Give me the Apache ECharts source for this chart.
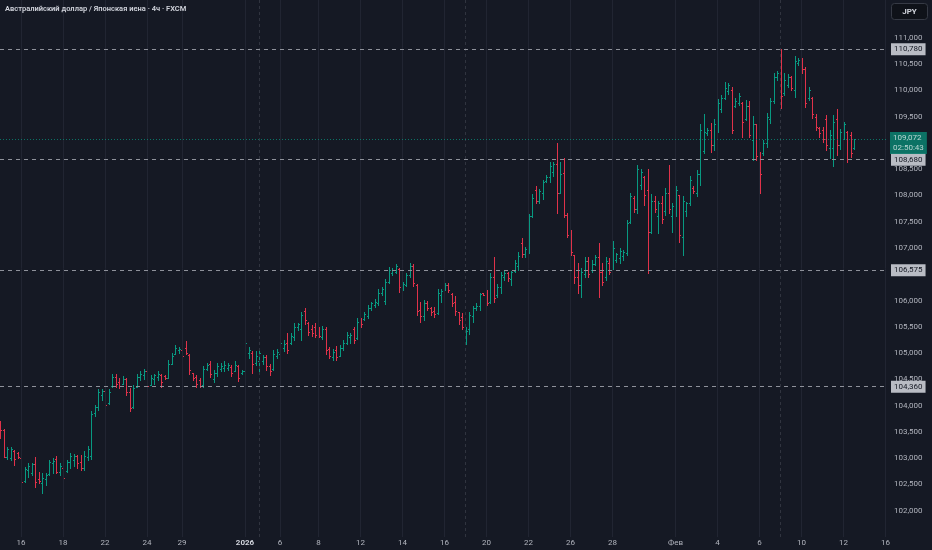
<!DOCTYPE html>
<html>
<head>
    <meta charset="UTF-8">
    <title>AUD/JPY 4ч</title>
    <style>
        html, body { margin: 0; padding: 0; background: #151924; }
        #container { width: 932px; height: 550px; }
    </style>
</head>
<body>
<div id="container"></div>

<script src="https://cdn.jsdelivr.net/npm/echarts@6.0.0/dist/echarts.min.js"></script>
<script type="text/javascript">
    // 4h bars, one entry per bar (index = position on the time scale)
    var opens = [
        103.66,103.53,103.02,103.00,103.14,103.10,103.00,102.56,102.78,102.72,
        102.88,102.60,102.52,102.60,102.70,102.90,102.98,102.74,102.82,102.76,
        102.92,102.96,103.04,102.92,102.82,103.02,103.05,103.85,103.98,104.20,
        104.28,104.05,104.38,104.55,104.45,104.42,104.50,104.25,103.98,104.36,
        104.55,104.58,104.66,104.40,104.50,104.55,104.58,104.56,104.53,104.80,
        104.99,105.05,105.06,105.10,104.96,104.62,104.55,104.48,104.40,104.70,
        104.80,104.50,104.62,104.70,104.72,104.72,104.74,104.66,104.76,104.62,
        104.66,105.00,105.00,104.82,104.85,104.85,104.92,104.75,104.70,104.95,
        104.98,105.10,105.20,105.20,105.30,105.50,105.45,105.80,105.58,105.45,
        105.50,105.45,105.30,105.45,105.08,104.92,105.05,104.95,105.10,105.20,
        105.30,105.45,105.28,105.62,105.65,105.70,105.85,105.92,105.95,106.15,
        106.00,106.35,106.52,106.55,106.60,106.22,106.30,106.48,106.65,106.30,
        105.82,105.70,105.95,105.85,105.80,105.76,106.10,106.22,106.30,106.12,
        105.98,105.78,105.68,105.30,105.45,105.70,105.85,105.90,106.14,106.12,
        105.98,106.45,106.10,106.25,106.45,106.52,106.40,106.56,106.65,107.10,
        106.88,106.98,107.60,108.10,107.90,108.05,108.28,108.35,108.45,108.60,
        108.05,108.42,107.62,107.25,106.86,106.45,106.30,106.50,106.75,106.58,
        106.70,106.82,106.55,106.45,106.72,106.60,106.78,106.80,106.85,106.90,
        107.50,107.95,107.75,108.20,108.35,108.10,107.30,107.90,107.60,107.85,
        107.70,108.05,107.60,107.65,108.00,107.20,107.70,107.85,108.15,108.05,
        108.40,108.85,109.18,109.25,108.95,109.35,109.65,109.85,109.98,110.00,
        109.70,109.75,109.75,109.45,109.70,109.05,109.35,108.75,108.80,109.00,
        109.45,109.80,110.25,110.35,109.95,110.10,110.25,110.00,110.52,110.60,
        110.40,109.85,109.85,109.50,109.28,109.25,109.45,108.90,108.90,109.45,
        108.95,109.15,109.20,109.15,108.90
    ];
    var highs = [
        103.70,103.55,103.22,103.21,103.16,103.12,103.03,102.84,102.90,102.90,
        103.03,102.74,102.71,102.71,102.97,103.00,103.04,102.90,102.84,102.97,
        103.09,103.08,103.06,103.06,103.14,103.23,103.89,104.01,104.31,104.31,
        104.31,104.31,104.60,104.60,104.52,104.56,104.52,104.33,104.39,104.61,
        104.65,104.69,104.69,104.58,104.61,104.65,104.61,104.58,104.86,105.01,
        105.15,105.11,105.09,105.22,104.98,104.63,104.58,104.52,104.75,104.82,
        104.84,104.68,104.82,104.82,104.84,104.82,104.77,104.84,104.77,104.68,
        105.28,105.11,105.03,105.03,105.07,104.96,104.96,104.79,105.06,105.07,
        105.25,105.25,105.38,105.38,105.57,105.58,105.79,105.85,105.60,105.53,
        105.57,105.50,105.51,105.50,105.12,105.07,105.13,105.15,105.25,105.41,
        105.38,105.50,105.66,105.66,105.79,105.91,105.98,106.02,106.21,106.26,
        106.40,106.63,106.61,106.69,106.61,106.36,106.52,106.71,106.69,106.31,
        105.98,106.01,106.00,105.88,105.88,106.21,106.21,106.33,106.33,106.15,
        106.08,105.79,105.76,105.50,105.79,105.89,105.95,106.15,106.15,106.20,
        106.53,106.82,106.31,106.55,106.57,106.55,106.57,106.78,106.93,107.18,
        107.02,107.65,108.03,108.18,108.13,108.29,108.39,108.64,108.64,108.99,
        108.64,108.72,107.67,107.34,106.87,106.71,106.61,106.83,106.83,106.77,
        106.87,107.09,106.71,106.83,106.80,107.14,106.91,106.99,106.96,107.53,
        108.04,107.98,108.58,108.51,108.36,108.50,108.03,107.98,107.90,107.98,
        108.15,108.58,107.86,108.18,108.01,107.99,107.88,108.37,108.18,108.48,
        109.36,109.55,109.29,109.38,109.45,109.83,109.91,110.16,110.13,110.06,
        109.85,109.95,109.78,109.82,109.80,109.51,109.36,108.83,109.05,109.57,
        109.85,110.32,110.37,110.78,110.32,110.31,110.27,110.65,110.61,110.61,
        110.44,110.06,109.87,109.55,109.30,109.31,109.53,109.25,109.53,109.64,
        109.26,109.40,109.23,109.21,109.07
    ];
    var lows = [
        103.38,103.02,102.98,102.97,102.87,103.00,102.52,102.55,102.65,102.68,
        102.45,102.52,102.33,102.49,102.68,102.71,102.71,102.68,102.55,102.74,
        102.81,102.85,102.81,102.78,102.78,102.97,102.98,103.80,103.92,104.11,
        103.95,104.03,104.35,104.36,104.33,104.41,104.20,103.89,103.96,104.35,
        104.49,104.50,104.36,104.39,104.42,104.49,104.35,104.50,104.52,104.79,
        104.98,105.00,104.79,104.98,104.61,104.49,104.36,104.35,104.35,104.68,
        104.54,104.44,104.56,104.65,104.65,104.68,104.56,104.65,104.46,104.61,
        104.65,104.90,104.63,104.77,104.60,104.80,104.68,104.58,104.68,104.90,
        104.93,105.03,105.00,105.17,105.25,105.44,105.24,105.56,105.34,105.32,
        105.31,105.30,105.26,104.99,104.90,104.87,104.87,104.94,105.06,105.17,
        105.20,105.20,105.26,105.50,105.63,105.66,105.81,105.87,105.91,106.10,
        105.93,106.33,106.49,106.52,106.17,106.20,106.28,106.45,106.28,105.72,
        105.60,105.63,105.81,105.72,105.69,105.75,105.98,106.20,106.17,105.89,
        105.72,105.56,105.45,105.18,105.37,105.60,105.82,105.82,106.10,105.91,
        105.96,105.98,106.07,106.14,106.39,106.38,106.29,106.55,106.58,106.82,
        106.83,106.91,107.58,107.86,107.86,107.94,108.26,108.26,108.36,107.67,
        108.04,107.59,107.20,106.87,106.33,106.15,106.07,106.45,106.45,106.55,
        106.67,106.07,106.29,106.39,106.50,106.59,106.74,106.71,106.77,106.87,
        107.47,107.69,107.66,108.13,107.82,106.52,107.28,107.69,107.28,107.47,
        107.63,107.66,107.31,107.60,107.12,106.87,107.60,107.82,108.05,107.99,
        108.20,108.81,109.15,108.83,108.86,109.21,109.59,109.83,109.93,109.18,
        109.69,109.72,109.12,109.44,109.12,108.67,108.67,108.04,108.77,108.93,
        109.37,109.75,110.20,109.66,109.91,110.07,110.01,109.88,110.48,110.32,
        109.69,109.82,109.47,109.25,109.12,109.02,108.86,108.71,108.56,108.77,
        108.88,109.07,108.64,108.74,108.88
    ];
    var closes = [
        103.53,103.03,103.18,103.18,102.98,103.02,102.55,102.80,102.86,102.88,
        102.55,102.56,102.62,102.68,102.93,102.95,102.74,102.85,102.62,102.92,
        103.05,103.04,102.90,102.82,103.05,103.18,103.84,103.98,104.25,104.28,
        104.02,104.26,104.55,104.42,104.38,104.50,104.25,103.95,104.34,104.55,
        104.60,104.65,104.38,104.52,104.58,104.60,104.45,104.52,104.80,104.95,
        105.10,105.08,104.95,105.00,104.68,104.52,104.42,104.38,104.70,104.78,
        104.60,104.62,104.75,104.76,104.78,104.78,104.62,104.78,104.52,104.66,
        105.20,105.06,104.80,104.95,105.00,104.92,104.75,104.65,104.98,105.02,
        105.20,105.18,105.05,105.32,105.50,105.55,105.72,105.62,105.40,105.38,
        105.35,105.33,105.45,105.05,104.95,105.02,104.92,105.10,105.20,105.35,
        105.35,105.25,105.60,105.55,105.75,105.85,105.95,105.98,106.15,106.22,
        106.35,106.58,106.58,106.65,106.25,106.32,106.48,106.66,106.33,105.80,
        105.70,105.95,105.85,105.78,105.75,106.15,106.18,106.30,106.20,105.95,
        105.80,105.62,105.50,105.42,105.72,105.85,105.90,106.12,106.11,105.95,
        106.45,106.05,106.25,106.48,106.52,106.42,106.55,106.72,106.85,106.88,
        106.98,107.60,107.95,107.90,108.08,108.25,108.35,108.55,108.60,108.05,
        108.40,107.62,107.25,106.92,106.45,106.30,106.55,106.75,106.50,106.70,
        106.82,106.55,106.35,106.75,106.55,107.00,106.88,106.95,106.92,107.47,
        107.98,107.75,108.50,108.45,108.00,107.30,107.90,107.75,107.85,107.55,
        108.05,107.75,107.80,108.10,107.25,107.90,107.85,108.30,108.08,108.40,
        109.25,109.20,109.25,108.95,109.35,109.75,109.85,110.05,110.10,109.25,
        109.80,109.90,109.40,109.70,109.15,109.35,108.75,108.40,109.00,109.50,
        109.80,110.25,110.32,109.90,110.20,110.25,110.05,110.55,110.58,110.40,
        109.75,110.00,109.55,109.30,109.18,109.08,108.95,109.15,109.40,108.95,
        109.20,109.35,108.70,108.80,109.072
    ];

    // time scale labels (bar index -> text)
    var tickIdx  = [6, 18, 30, 42, 52, 70, 80, 91, 103, 115, 127, 139, 151, 163, 175, 193, 205, 217, 229, 241, 253];
    var tickText = ['16', '18', '22', '24', '29', '2026', '6', '8', '12', '14', '16', '20', '22', '26', '28', 'Фев', '4', '6', '10', '12', '16'];
    var weekIdx  = [74, 133, 223];

    // horizontal levels drawn on the chart
    var levels = [110.780, 108.680, 106.575, 104.360];
    var lastPrice = 109.072;
    var countdown = '02:50:43';
    // price scale ticks hidden behind the tag boxes
    var hiddenTicks = [101.5, 106.5, 109, 111.5];

    var UP = '#089981';
    var DOWN = '#e0324a';

    var bars = opens.map(function (o, i) {
        return [i, o, highs[i], lows[i], closes[i]];
    });

    function fmtPrice(v) {
        return v.toFixed(3).replace('.', ',');
    }

    // OHLC bar: high-low stick, open tick left, close tick right
    function renderOHLC(params, api) {
        var i = api.value(0);
        var pO = api.coord([i, api.value(1)]);
        var pH = api.coord([i, api.value(2)]);
        var pL = api.coord([i, api.value(3)]);
        var pC = api.coord([i, api.value(4)]);
        var x = Math.round(pO[0]) + 0.5;
        var color = api.value(4) >= api.value(1) ? UP : DOWN;
        var st = { stroke: color, lineWidth: 1 };
        var yo = Math.round(pO[1]) + 0.5;
        var yc = Math.round(pC[1]) + 0.5;
        return {
            type: 'group',
            children: [
                { type: 'line', shape: { x1: x, y1: Math.round(pH[1]), x2: x, y2: Math.round(pL[1]) + 1 }, style: st },
                { type: 'line', shape: { x1: x - 1.5, y1: yo, x2: x, y2: yo }, style: st },
                { type: 'line', shape: { x1: x, y1: yc, x2: x + 1.5, y2: yc }, style: st }
            ]
        };
    }

    var chart = echarts.init(document.getElementById('container'), null, { renderer: 'canvas' });

    var gridLines = tickIdx.map(function (v) {
        return { xAxis: v, lineStyle: { color: '#212532', type: 'solid', width: 1 } };
    }).concat(weekIdx.map(function (v) {
        return { xAxis: v, lineStyle: { color: '#30343f', type: [3, 3], width: 1 } };
    }));

    var option = {
        backgroundColor: '#151924',
        animation: false,
        textStyle: { fontFamily: 'Roboto, "Noto Sans", sans-serif' },
        title: {
            text: 'Австралийский доллар / Японская иена · 4ч · FXCM',
            left: 5,
            top: 5,
            padding: 0,
            textStyle: { color: '#d1d4dc', fontSize: 7.5, fontWeight: 600 }
        },
        graphic: [{
            type: 'group',
            right: 4,
            top: 3,
            children: [
                { type: 'rect', shape: { x: 0, y: 0, width: 36, height: 16, r: 3 }, style: { fill: '#0f1219', stroke: '#363a45', lineWidth: 1 } },
                { type: 'text', x: 18, y: 8, style: { text: 'JPY', fill: '#d1d4dc', font: 'bold 8px Roboto', align: 'center', verticalAlign: 'middle' } }
            ]
        }],
        grid: { left: 0, right: 45, top: 0, bottom: 13 },
        xAxis: {
            type: 'value',
            min: 0,
            max: 253.4,
            axisLine: { show: false },
            axisTick: { show: false },
            splitLine: { show: false },
            axisLabel: {
                customValues: tickIdx,
                color: '#b2b5be',
                fontSize: 8,
                margin: 2,
                formatter: function (v) {
                    var k = tickIdx.indexOf(Math.round(v));
                    if (k < 0) return '';
                    return tickText[k] === '2026' ? '{y|2026}' : tickText[k];
                },
                rich: { y: { color: '#d1d4dc', fontWeight: 'bold', fontSize: 8 } }
            }
        },
        yAxis: {
            type: 'value',
            position: 'right',
            min: 101.5,
            max: 111.718,
            interval: 0.5,
            axisLine: { show: false },
            axisTick: { show: false },
            splitLine: { show: false },
            axisLabel: {
                color: '#b2b5be',
                fontSize: 8,
                margin: 7,
                formatter: function (v) {
                    var r = Math.round(v * 2) / 2;
                    if (Math.abs(r - v) > 1e-6) return '';
                    if (hiddenTicks.indexOf(r) >= 0) return '';
                    return fmtPrice(v);
                }
            }
        },
        series: [
            {
                name: 'grid',
                type: 'line',
                data: [],
                silent: true,
                z: 1,
                markLine: {
                    silent: true,
                    symbol: ['none', 'none'],
                    label: { show: false },
                    data: gridLines
                }
            },
            {
                name: 'AUDJPY',
                type: 'custom',
                renderItem: renderOHLC,
                encode: { x: 0, y: [1, 2, 3, 4] },
                data: bars,
                z: 2
            },
            {
                name: 'levels',
                type: 'line',
                data: [],
                z: 3,
                markLine: {
                    silent: true,
                    symbol: ['none', 'none'],
                    precision: 3,
                    lineStyle: { color: '#8e919a', type: [4, 4], width: 1 },
                    label: {
                        position: 'end',
                        distance: 4,
                        color: '#131722',
                        backgroundColor: '#b9bcc4',
                        fontSize: 8,
                        padding: [2, 3, 2, 3],
                        formatter: function (p) { return fmtPrice(levels[p.dataIndex]); }
                    },
                    data: levels.map(function (v) { return { yAxis: v }; })
                }
            },
            {
                name: 'last',
                type: 'line',
                data: [],
                z: 4,
                markLine: {
                    silent: true,
                    symbol: ['none', 'none'],
                    precision: 3,
                    lineStyle: { color: UP, type: [1, 2], width: 1, opacity: 0.7 },
                    label: {
                        position: 'end',
                        distance: 3,
                        color: '#ffffff',
                        backgroundColor: UP,
                        fontSize: 8,
                        lineHeight: 10,
                        padding: [1, 3, 1, 3],
                        offset: [0, 4],
                        formatter: function () { return fmtPrice(lastPrice) + '\n' + countdown; }
                    },
                    data: [{ yAxis: lastPrice }]
                }
            }
        ]
    };

    chart.setOption(option);
    window.addEventListener('resize', chart.resize);
</script>
</body>
</html>
